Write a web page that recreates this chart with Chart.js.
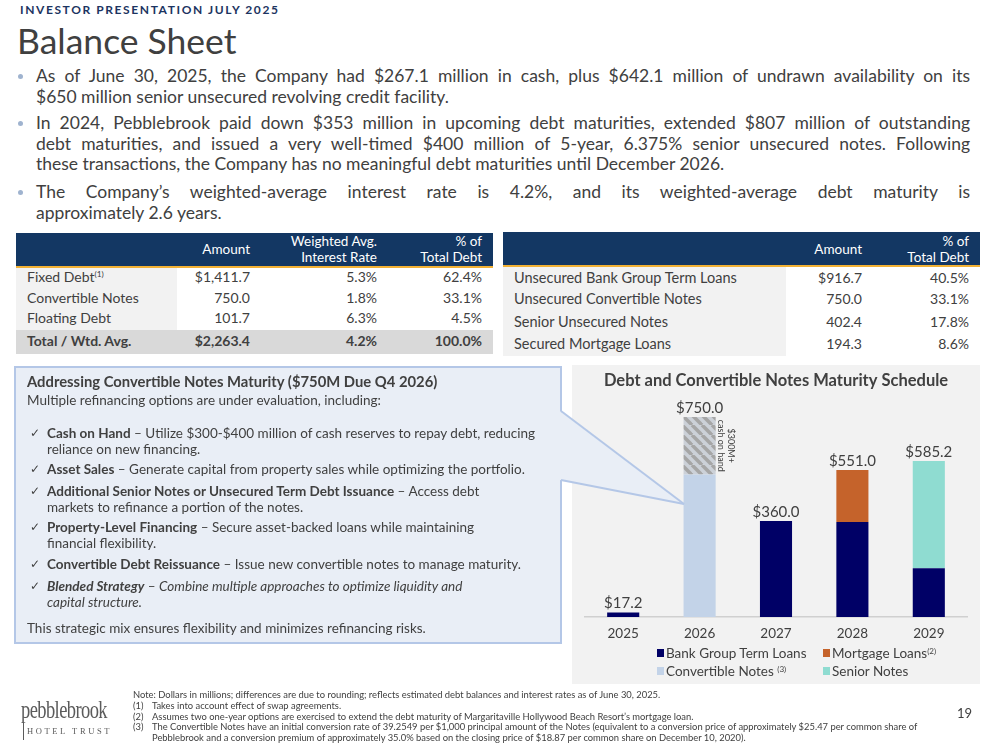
<!DOCTYPE html>
<html>
<head>
<meta charset="utf-8">
<script src="https://cdn.jsdelivr.net/npm/chart.js@4.4.1/dist/chart.umd.min.js"></script>
<style>
  body { margin: 0; width: 996px; height: 751px; position: relative; overflow: hidden; background: #fff; font-family: Lato, "Open Sans", sans-serif; color: #404040; }
  .abs { position: absolute; white-space: nowrap; }
  .ln { position: absolute; white-space: nowrap; }
  .just { text-align: justify; text-align-last: justify; }
  .dot { position: absolute; width: 5px; height: 5px; border-radius: 50%; background: #9fb3cf; }
  .th { position: absolute; color: #fff; font-size: 13.5px; line-height: 16px; text-align: right; white-space: nowrap; }
  .td { position: absolute; font-size: 14px; line-height: 18px; white-space: nowrap; }
  .r { text-align: right; }
  sup { font-size: 0.6em; vertical-align: 0.55em; line-height: 0; }
  .cl { position: absolute; left: 47px; font-size: 13.5px; line-height: 16px; white-space: nowrap; }
  .ck { position: absolute; left: 30px; font-size: 12px; line-height: 16px; font-family: "DejaVu Sans", sans-serif; }
  .lg { position: absolute; font-size: 13.5px; line-height: 16px; white-space: nowrap; }
  .sq { position: absolute; width: 7px; height: 8px; }
  .nt { position: absolute; font-size: 9.4px; line-height: 10px; white-space: nowrap; }
</style>
</head>
<body>

<div class="abs" style="left:20px; top:2px; font-size:12px; font-weight:bold; letter-spacing:1.6px; color:#1c3461;">INVESTOR PRESENTATION JULY 2025</div>
<div class="abs" style="left:17px; top:20px; font-size:35.5px; line-height:42px; color:#404040;">Balance Sheet</div>

<div id="bullets"></div>

<!-- left table -->
<div class="abs" style="left:16px; top:233px; width:477px; height:33px; background:#133763;"></div>
<div class="abs" style="left:16px; top:266px; width:477px; height:2px; background:#f2b134;"></div>
<div class="abs" style="left:16px; top:268px; width:161px; height:62px; background:#f2f2f2;"></div>
<div class="abs" style="left:16px; top:330px; width:477px; height:24px; background:#d9d9d9;"></div>
<!-- right table -->
<div class="abs" style="left:503px; top:232px; width:477px; height:33px; background:#133763;"></div>
<div class="abs" style="left:503px; top:265px; width:477px; height:2px; background:#f2b134;"></div>
<div class="abs" style="left:503px; top:267px; width:283px; height:89px; background:#f2f2f2;"></div>
<div id="tables"></div>

<!-- chart panel -->
<div class="abs" style="left:572px; top:365px; width:408px; height:319px; background:#f2f2f2;"></div>
<canvas id="chart" class="abs" width="408" height="285" style="left:572px; top:365px; width:408px; height:285px;"></canvas>
<div id="legend"></div>

<!-- callout -->
<div class="abs" style="left:14px; top:366px; width:548px; height:278px; box-sizing:border-box; border:2px solid #b4c7e7; background:#e9eef6;"></div>
<svg class="abs" style="left:0; top:0;" width="996" height="751">
  <polygon points="560,411 684,504 560,480" fill="#e9eef6"/>
  <line x1="561" y1="411" x2="684" y2="504" stroke="#b4c7e7" stroke-width="2"/>
  <line x1="561" y1="480" x2="684" y2="504" stroke="#b4c7e7" stroke-width="2"/>
</svg>
<div id="callout"></div>

<!-- footer -->
<div class="abs" style="left:21px; top:697px; font-family:'Liberation Serif', 'DejaVu Serif', serif; font-size:25px; line-height:26px; color:#5b5b5b; letter-spacing:-0.8px; transform:scaleX(0.74); transform-origin:0 0;">pebblebrook</div>
<div class="abs" style="left:23px; top:722px; height:18px; border-left:1px solid #5b5b5b;"></div>
<div class="abs" style="left:27px; top:726px; font-family:'Liberation Serif', 'DejaVu Serif', serif; font-size:8.5px; line-height:10px; letter-spacing:2.6px; color:#5b5b5b;">HOTEL TRUST</div>
<div id="notes"></div>
<div class="abs" style="left:957px; top:705px; font-size:13px; line-height:16px; color:#404040;">19</div>

<script>
// chart data
const years = ['2025', '2026', '2027', '2028', '2029'];
const bankGroupTermLoans = [17.2, null, 360.0, 356.7, 182.8];
const convertibleNotes = [null, 535.0, null, null, null];
const cashOnHandPortion = [null, 215.0, null, null, null];
const mortgageLoans = [null, null, null, 194.3, null];
const seniorNotes = [null, null, null, null, 402.4];

// table rows
const debtTypeRows = [
  ['Fixed Debt<sup>(1)</sup>', '$1,411.7', '5.3%', '62.4%'],
  ['Convertible Notes', '750.0', '1.8%', '33.1%'],
  ['Floating Debt', '101.7', '6.3%', '4.5%'],
  ['Total / Wtd. Avg.', '$2,263.4', '4.2%', '100.0%']
];
const debtSourceRows = [
  ['Unsecured Bank Group Term Loans', '$916.7', '40.5%'],
  ['Unsecured Convertible Notes', '750.0', '33.1%'],
  ['Senior Unsecured Notes', '402.4', '17.8%'],
  ['Secured Mortgage Loans', '194.3', '8.6%']
];

// bullets: [centerY, text, justified, bullet]
const bulletLines = [
  [76, 'As of June 30, 2025, the Company had $267.1 million in cash, plus $642.1 million of undrawn availability on its', true, true],
  [96.5, '$650 million senior unsecured revolving credit facility.', false, false],
  [123, 'In 2024, Pebblebrook paid down $353 million in upcoming debt maturities, extended $807 million of outstanding', true, true],
  [143.5, 'debt maturities, and issued a very well-timed $400 million of 5-year, 6.375% senior unsecured notes. Following', true, false],
  [164, 'these transactions, the Company has no meaningful debt maturities until December 2026.', false, false],
  [192, 'The Company\u2019s weighted-average interest rate is 4.2%, and its weighted-average debt maturity is', true, true],
  [212.5, 'approximately 2.6 years.', false, false]
];

let html = '';
bulletLines.forEach(([cy, text, just, dot]) => {
  html += `<div class="ln fit${just ? ' just' : ''}" style="left:36px; width:934px; top:${cy - 11}px; font-size:17.5px; line-height:22px;">${text}</div>`;
  if (dot) html += `<div class="dot" style="left:18px; top:${cy - 2}px;"></div>`;
});
document.getElementById('bullets').innerHTML = html;

// tables
html = '';
html += `<div class="th" style="left:150px; width:100px; top:241px;">Amount</div>`;
html += `<div class="th" style="left:257px; width:120px; top:233px;">Weighted Avg.</div>`;
html += `<div class="th" style="left:257px; width:120px; top:249px;">Interest Rate</div>`;
html += `<div class="th" style="left:382px; width:100px; top:233px;">% of</div>`;
html += `<div class="th" style="left:382px; width:100px; top:249px;">Total Debt</div>`;
const leftRowY = [277, 298, 318, 341];
debtTypeRows.forEach((row, i) => {
  const b = i === 3 ? 'font-weight:bold;' : '';
  const t = leftRowY[i] - 9;
  html += `<div class="td" style="left:27px; top:${t}px; ${b}">${row[0]}</div>`;
  html += `<div class="td r" style="left:150px; width:100px; top:${t}px; ${b}">${row[1]}</div>`;
  html += `<div class="td r" style="left:277px; width:100px; top:${t}px; ${b}">${row[2]}</div>`;
  html += `<div class="td r" style="left:382px; width:100px; top:${t}px; ${b}">${row[3]}</div>`;
});
html += `<div class="th" style="left:762px; width:100px; top:241px;">Amount</div>`;
html += `<div class="th" style="left:869px; width:100px; top:233px;">% of</div>`;
html += `<div class="th" style="left:869px; width:100px; top:249px;">Total Debt</div>`;
const rightRowY = [278, 299, 322, 344];
debtSourceRows.forEach((row, i) => {
  const t = rightRowY[i] - 9;
  html += `<div class="td" style="left:514px; top:${t}px; font-size:14.5px;">${row[0]}</div>`;
  html += `<div class="td r" style="left:762px; width:100px; top:${t}px;">${row[1]}</div>`;
  html += `<div class="td r" style="left:869px; width:100px; top:${t}px;">${row[2]}</div>`;
});
document.getElementById('tables').innerHTML = html;

// callout text
const calloutLines = [
  [381, '<b>Addressing Convertible Notes Maturity ($750M Due Q4 2026)</b>', 'title'],
  [400, 'Multiple refinancing options are under evaluation, including:', 'plain'],
  [433, '<b>Cash on Hand</b> \u2013 Utilize $300-$400 million of cash reserves to repay debt, reducing', 'check'],
  [448.5, 'reliance on new financing.', 'cont'],
  [469, '<b>Asset Sales</b> \u2013 Generate capital from property sales while optimizing the portfolio.', 'check'],
  [491, '<b>Additional Senior Notes or Unsecured Term Debt Issuance</b> \u2013 Access debt', 'check'],
  [506.5, 'markets to refinance a portion of the notes.', 'cont'],
  [527, '<b>Property-Level Financing</b> \u2013 Secure asset-backed loans while maintaining', 'check'],
  [543, 'financial flexibility.', 'cont'],
  [564, '<b>Convertible Debt Reissuance</b> \u2013 Issue new convertible notes to manage maturity.', 'check'],
  [586, '<b><i>Blended Strategy</i></b> \u2013 <i>Combine multiple approaches to optimize liquidity and</i>', 'check'],
  [601.5, '<i>capital structure.</i>', 'cont'],
  [628, 'This strategic mix ensures flexibility and minimizes refinancing risks.', 'plain']
];
html = '';
calloutLines.forEach(([cy, text, kind]) => {
  const t = cy - 8;
  if (kind === 'title') html += `<div class="cl" style="left:27px; top:${t}px; font-size:14.8px;">${text}</div>`;
  else if (kind === 'plain') html += `<div class="cl" style="left:27px; top:${t}px;">${text}</div>`;
  else {
    if (kind === 'check') html += `<div class="ck" style="top:${t}px;">\u2713</div>`;
    html += `<div class="cl" style="top:${t}px;">${text}</div>`;
  }
});
document.getElementById('callout').innerHTML = html;

// legend
const legendItems = [
  [657, 653, '#000066', 'Bank Group Term Loans'],
  [823, 653, '#c5632b', 'Mortgage Loans<sup>(2)</sup>'],
  [657, 671, '#c3d3e8', 'Convertible Notes <sup>(3)</sup>'],
  [823, 671, '#8fdcd1', 'Senior Notes']
];
html = '';
legendItems.forEach(([x, cy, color, label]) => {
  html += `<div class="sq" style="left:${x}px; top:${cy - 4}px; background:${color};"></div>`;
  html += `<div class="lg" style="left:${x + 9}px; top:${cy - 8}px;">${label}</div>`;
});
document.getElementById('legend').innerHTML = html;

// notes
const noteLines = [
  [695, '', 'Note: Dollars in millions; differences are due to rounding; reflects estimated debt balances and interest rates as of June 30, 2025.'],
  [706, '(1)', 'Takes into account effect of swap agreements.'],
  [716.5, '(2)', 'Assumes two one-year options are exercised to extend the debt maturity of Margaritaville Hollywood Beach Resort\u2019s mortgage loan.'],
  [727, '(3)', 'The Convertible Notes have an initial conversion rate of 39.2549 per $1,000 principal amount of the Notes (equivalent to a conversion price of approximately $25.47 per common share of'],
  [738, '', 'Pebblebrook and a conversion premium of approximately 35.0% based on the closing price of $18.87 per common share on December 10, 2020).']
];
html = '';
noteLines.forEach(([cy, num, text], i) => {
  const t = cy - 5;
  if (num) html += `<div class="nt" style="left:133px; top:${t}px;">${num}</div>`;
  html += `<div class="nt" style="left:${i === 0 ? 133 : 152}px; top:${t}px;">${text}</div>`;
});
document.getElementById('notes').innerHTML = html;

// shrink any line that overflows its box
document.querySelectorAll('.fit').forEach(el => {
  let size = parseFloat(el.style.fontSize);
  while (el.scrollWidth > el.clientWidth + 1 && size > 12) {
    size -= 0.25;
    el.style.fontSize = size + 'px';
  }
});

// hatch pattern for the cash-on-hand slice
function makeHatch() {
  const c = document.createElement('canvas');
  c.width = 10; c.height = 10;
  const g = c.getContext('2d');
  g.fillStyle = '#ccd1d8';
  g.fillRect(0, 0, 10, 10);
  g.strokeStyle = '#a6a6a6';
  g.lineWidth = 3.5;
  for (const k of [-10, 0, 10]) {
    g.beginPath();
    g.moveTo(k, 0);
    g.lineTo(k + 10, 10);
    g.stroke();
  }
  return g.createPattern(c, 'repeat');
}

const totalsPlugin = {
  id: 'totals',
  afterDatasetsDraw(chart) {
    const { ctx, scales: { x, y } } = chart;
    ctx.save();
    ctx.font = '15px Lato';
    ctx.fillStyle = '#404040';
    ctx.textAlign = 'center';
    ctx.textBaseline = 'alphabetic';
    years.forEach((yr, i) => {
      const total = chart.data.datasets.reduce((s, d) => s + (d.data[i] || 0), 0);
      ctx.fillText('$' + total.toFixed(1), x.getPixelForValue(i), y.getPixelForValue(total) - 4);
    });
    // rotated note beside the hatched part of 2026
    const bar = chart.getDatasetMeta(2).data[1];
    const right = bar.x + bar.width / 2;
    const mid = (bar.y + bar.base) / 2;
    ctx.translate(right, mid);
    ctx.rotate(Math.PI / 2);
    ctx.font = '9px Lato';
    ctx.textBaseline = 'middle';
    ctx.fillText('$300M+', 0, -15);
    ctx.fillText('cash on hand', 0, -5);
    ctx.restore();
  }
};

Chart.defaults.font.family = 'Lato';
Chart.defaults.color = '#404040';

new Chart(document.getElementById('chart'), {
  type: 'bar',
  data: {
    labels: years,
    datasets: [
      { label: 'Bank Group Term Loans', data: bankGroupTermLoans, backgroundColor: '#000066' },
      { label: 'Convertible Notes', data: convertibleNotes, backgroundColor: '#c3d3e8' },
      { label: '$300M+ cash on hand', data: cashOnHandPortion, backgroundColor: makeHatch() },
      { label: 'Mortgage Loans', data: mortgageLoans, backgroundColor: '#c5632b' },
      { label: 'Senior Notes', data: seniorNotes, backgroundColor: '#8fdcd1' }
    ]
  },
  options: {
    responsive: false,
    animation: false,
    datasets: { bar: { barPercentage: 0.42, categoryPercentage: 1 } },
    layout: { padding: { left: 13, right: 13, top: 0, bottom: 0 } },
    plugins: {
      legend: { display: false },
      tooltip: { enabled: false },
      title: {
        display: true,
        text: 'Debt and Convertible Notes Maturity Schedule',
        color: '#404040',
        font: { size: 16.5, weight: 'bold' },
        padding: { top: 6, bottom: 4.4 }
      }
    },
    scales: {
      x: {
        stacked: true,
        grid: { display: true, color: 'transparent', drawTicks: false },
        border: { display: true, color: '#d0d0d0', width: 1.5 },
        ticks: { color: '#404040', font: { size: 13.5 }, padding: 9 },
        afterFit: (scale) => { scale.height = 33; }
      },
      y: { stacked: true, display: false, min: 0, max: 832 }
    }
  },
  plugins: [totalsPlugin]
});
</script>
</body>
</html>
